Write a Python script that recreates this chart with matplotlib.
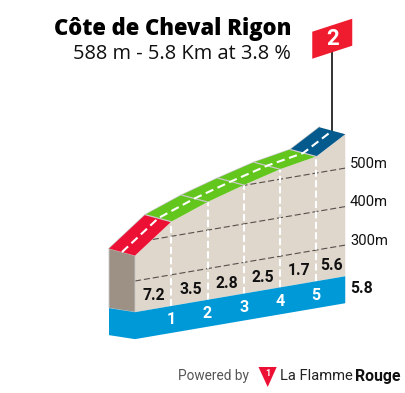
import matplotlib
matplotlib.use("Agg")
import matplotlib.pyplot as plt
from matplotlib.patches import Polygon
from matplotlib.transforms import Affine2D

WIDTH, HEIGHT = 405, 393

# climb profile
km = [0, 1, 2, 3, 4, 5, 5.8]
elevation = [366, 438, 473, 501, 526, 543, 588]
gradients = ["7.2", "3.5", "2.8", "2.5", "1.7", "5.6"]
km_labels = ["1", "2", "3", "4", "5"]
grid_elevations = [300, 400, 500]
grid_labels = ["300m", "400m", "500m"]
base_elevation = 219
floor_elevation = 149
total_km = "5.8"
title = "Côte de Cheval Rigon"
subtitle = "588 m - 5.8 Km at 3.8 %"
flag_number = "2"

RED = "#ec1034"
GREEN = "#62c61d"
DARK_BLUE = "#045a8c"
BLUE = "#0099d8"
BEIGE = "#dfd6cc"
SIDE = "#9c9184"
EDGE = "#c9c9c9"

fig = plt.figure(figsize=(WIDTH / 100, HEIGHT / 100), dpi=100)
ax = fig.add_axes([0, 0, 1, 1])
ax.set_xlim(0, WIDTH)
ax.set_ylim(HEIGHT, 0)
ax.axis("off")

# oblique projection: (km, elevation) to picture pixels
profile = Affine2D.from_values(36.25, -6.19, 0, -0.385, 135, 396.5)
to_px = profile + ax.transData
back = profile + Affine2D().translate(-26, -7) + ax.transData
road_mid = profile + Affine2D().translate(-13, -3.5)


def road_part(i0, i1, color):
    px = profile.transform(list(zip(km[i0:i1 + 1], elevation[i0:i1 + 1])))
    pts = [tuple(p) for p in px] + [(p[0] - 26, p[1] - 7) for p in px[::-1]]
    ax.add_patch(Polygon(pts, closed=True, fc=color, ec="none", zorder=3))


def narrow_text(x, y, s, size, color="#111111", ha="center"):
    ax.text(x, y, s, fontsize=size, fontweight="bold", family="Roboto",
            color=color, ha=ha, va="center", zorder=6)


# left side and blue foot
side_top = profile.transform((km[0], elevation[0]))
side_bot = profile.transform((km[0], base_elevation))
side_low = profile.transform((km[0], floor_elevation))
ax.add_patch(Polygon([side_top, side_top - (26, 7), side_bot - (26, 4), side_bot],
                     fc=SIDE, ec=EDGE, lw=0.6, zorder=2))
foot_top = profile.transform([(km[0], base_elevation), (km[-1], base_elevation)])
foot_low = profile.transform([(km[-1], floor_elevation), (km[0], floor_elevation)])
ax.add_patch(Polygon([side_bot - (26, 4), foot_top[0], foot_top[1], foot_low[0], foot_low[1],
                      side_low - (26, 4)], fc=BLUE, ec="none", zorder=2))

# front face
face_x = km + [km[-1], km[0]]
face_y = elevation + [base_elevation, base_elevation]
face = Polygon(list(zip(face_x, face_y)), closed=True, fc=BEIGE, ec="none",
               transform=to_px, zorder=1)
ax.add_patch(face)

# elevation grid
for e, lab in zip(grid_elevations, grid_labels):
    line, = ax.plot([km[0], km[-1]], [e, e], color="#55504c", lw=0.8, dashes=(5.5, 2.6),
                    transform=to_px, zorder=1.5)
    line.set_clip_path(face)
    x, y = profile.transform((km[-1], e))
    ax.text(350, y - 4.5, lab, fontsize=10.6, family="Roboto", color="#111111",
            va="center", ha="left", zorder=6)

# road surface
road_part(0, 1, RED)
road_part(1, 5, GREEN)
road_part(5, 6, DARK_BLUE)
ax.plot(km, elevation, color=EDGE, lw=1, transform=back, zorder=2.5)
for k, e in zip(km[1:-1], elevation[1:-1]):
    p = profile.transform((k, e))
    ax.plot([p[0], p[0] - 26], [p[1], p[1] - 7], color=EDGE, lw=0.9, zorder=4)
ax.plot(km, elevation, color="white", lw=1.5, dashes=(4, 2.2),
        transform=road_mid + ax.transData, zorder=5)

# km ticks and labels
for k, lab in zip(km[1:-1], km_labels):
    i = km.index(k)
    ax.plot([k, k], [base_elevation, elevation[i]], color="white", lw=1.5, dashes=(3.4, 1.6),
            transform=to_px, zorder=1.8)
    x, y = profile.transform((k, base_elevation))
    narrow_text(x, y + 14, lab, 11.5, color="white")

for i, g in enumerate(gradients):
    xm = (km[i] + km[i + 1]) / 2
    x, y = profile.transform((xm, base_elevation))
    narrow_text(x + 1, y - 13.5, g, 11.3)

x_end, y_end = profile.transform((km[-1], base_elevation))
narrow_text(350, y_end + 12, total_km, 11.3, ha="left")

# summit flag
summit = profile.transform((km[-1], elevation[-1])) - (13, 3.5)
ax.plot([summit[0], summit[0]], [summit[1], summit[1] - 85], color="#222222", lw=1.3, zorder=2.8)
fx, fy = summit[0], summit[1] - 85
ax.add_patch(Polygon([(fx - 20, fy - 14), (fx + 20, fy - 27), (fx + 20, fy), (fx - 20, fy + 13)],
                     fc="#ee1c2e", ec="none", zorder=4))
narrow_text(fx, fy - 7, flag_number, 16, color="white")

# titles
ax.text(291, 29, title, family="Open Sans", fontweight="black", fontsize=15.8, color="black",
        ha="right", va="center")
ax.text(291, 54, subtitle, family="Open Sans", fontsize=14.4, color="#111111",
        ha="right", va="center")

# footer
ax.text(178, 376, "Powered by", family="Roboto", fontsize=9.8, color="#555555", ha="left", va="center")
ax.add_patch(Polygon([(258.5, 367), (276.7, 367), (267.7, 387)], fc="#ec1034", ec="none"))
narrow_text(267.5, 373.5, "1", 6.5, color="white")
ax.text(280, 376, "La Flamme", family="Roboto", fontsize=10.6, color="#222222", ha="left", va="center")
ax.text(400, 376, "Rouge", family="Roboto", fontsize=11.4, fontweight="bold", color="#111111",
        ha="right", va="center")

fig.savefig("out.png", dpi=100)
